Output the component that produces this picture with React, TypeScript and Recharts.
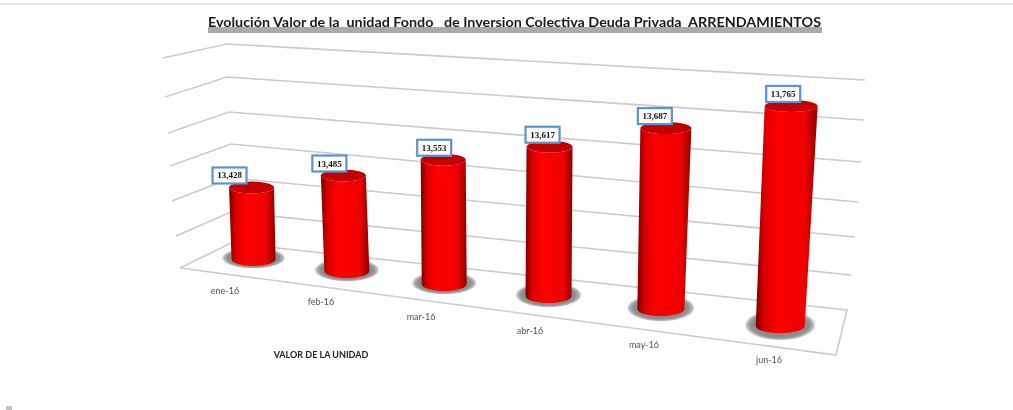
import React from "react";
import { ComposedChart, Bar, XAxis, YAxis, LabelList } from "recharts";

// ---- data ----
const months = ["ene-16", "feb-16", "mar-16", "abr-16", "may-16", "jun-16"];
const unitValues = [13428, 13485, 13553, 13617, 13687, 13765];
const chartTitle = "Evolución Valor de la  unidad Fondo   de Inversion Colectiva Deuda Privada  ARRENDAMIENTOS";
const seriesName = "VALOR DE LA UNIDAD";
const tableRows = months.map((month, i) => ({ month, value: unitValues[i] }));

// ---- 3-D look: layout only ----
const W = 1013, H = 410;
const M = { top: 28, right: 180, bottom: 149, left: 201 };
const depthX = [0, -12, -20, -21, -14, 0];
const depthBottom = [0, 12, 25, 37, 50, 67];
const depthTop = [1, 14, 28, 43, 55, 67];
const barW = [44, 45, 45, 46, 47, 49];
const topW = [45, 45, 45, 46, 51, 53];
const lean = [-2, -3.5, -1, 1, 5, 11];
const labelDx = [-22, -14, -9, -7, -11, -8];
const shadowRy = [11, 12, 12, 13, 14, 16];
const tickPos = [[225, 291], [321, 302], [421, 317], [530, 331], [644, 345], [769, 360]];

const wallLines = [
  "163,58 227,44 865,80",
  "165,97 227,77 864,120",
  "168,133 229,112 861,162",
  "170,166 231,144 858,202",
  "172,201 231,178 855,237",
  "176,236 231,212 851,275",
  "180,268 231,243 847,310 836,355 180,268",
];

const GRID = "#cfc8d2";

function Cylinder(props: any) {
  const { x, y, width, height, index: i } = props;
  const cx = x + width / 2 + depthX[i];
  const yTop = y + depthTop[i];
  const yBot = y + height + depthBottom[i] - 1;
  const bw = barW[i] / 2;
  const tw = topW[i] / 2;
  const tcx = cx + lean[i];
  const ry = 6;
  const ryBot = 7;
  const body = `M${tcx - tw},${yTop} L${cx - bw},${yBot} A${bw},${ryBot} 0 0 0 ${cx + bw},${yBot} L${tcx + tw},${yTop} A${tw},${ry} 0 0 1 ${tcx - tw},${yTop} Z`;
  return (
    <g>
      <ellipse cx={cx} cy={yBot - 1} rx={bw * 1.5} ry={shadowRy[i]} fill="url(#shadowFill)" />
      <path d={body} fill="url(#cylFill)" />
      <ellipse cx={tcx} cy={yTop} rx={tw} ry={ry} fill="#c20000" />
    </g>
  );
}

function ValueBox(props: any) {
  const { x, y, width, value, index: i } = props;
  const cx = x + width / 2 + depthX[i] + lean[i] + labelDx[i];
  const cy = y + depthTop[i] - 12;
  return (
    <g>
      <rect x={cx - 17} y={cy - 8} width={34} height={16} fill="#fff" stroke="#5f92d2" strokeWidth={2.2} />
      <text x={cx} y={cy + 3} textAnchor="middle" fontFamily="'Liberation Serif', serif" fontWeight={700} fontSize={9} fill="#111">
        {Number(value).toLocaleString("en-US")}
      </text>
    </g>
  );
}

function MonthTick(props: any) {
  const { index: i, payload } = props;
  const [tx, ty] = tickPos[i];
  return (
    <text x={tx} y={ty + 3} textAnchor="middle" fontFamily="Lato, sans-serif" fontSize={9} fill="#555">
      {payload.value}
    </text>
  );
}

export default function App() {
  return (
    <div style={{ position: "absolute", left: 0, top: 0, width: W, height: H, background: "#fff", filter: "blur(0.6px)" }}>
      <ComposedChart width={W} height={H} data={tableRows} margin={M}>
        <defs>
          <linearGradient id="cylFill" x1="0" x2="1" y1="0" y2="0">
            <stop offset="0" stopColor="#7a0000" />
            <stop offset="0.14" stopColor="#d80000" />
            <stop offset="0.35" stopColor="#ff0000" />
            <stop offset="0.8" stopColor="#f00000" />
            <stop offset="1" stopColor="#8f0000" />
          </linearGradient>
          <radialGradient id="shadowFill">
            <stop offset="0" stopColor="#7a7a7a" />
            <stop offset="0.78" stopColor="#8e8e8e" />
            <stop offset="0.9" stopColor="#b8b8b8" />
            <stop offset="1" stopColor="#fff" stopOpacity={0} />
          </radialGradient>
        </defs>
        <line x1={0} y1={4} x2={W} y2={4} stroke="#c9c9c9" strokeWidth={1} />
        <rect x={6} y={406} width={6} height={4} fill="#c4bfcc" />
        {wallLines.map((pts) => (
          <polyline key={pts} points={pts} fill="none" stroke={GRID} strokeWidth={1.6} />
        ))}
        <XAxis dataKey="month" height={1} axisLine={false} tickLine={false} tick={<MonthTick />} interval={0} />
        <YAxis hide domain={[13260, 13790]} />

        <Bar dataKey="value" isAnimationActive={false} shape={<Cylinder />}>
          <LabelList dataKey="value" content={<ValueBox />} />
        </Bar>

        <rect x={208} y={27} width={614} height={6} fill="#a9aba8" />
        <text x={208} y={27} textLength={613} lengthAdjust="spacingAndGlyphs" style={{ whiteSpace: "pre" }}
          fontFamily="Lato, sans-serif" fontWeight={700} fontSize={14} fill="#1a1a1a">
          {chartTitle}
        </text>
        <text x={321} y={358} textAnchor="middle" fontFamily="Lato, sans-serif" fontWeight={700} fontSize={9} fill="#222">
          {seriesName}
        </text>
      </ComposedChart>
    </div>
  );
}
